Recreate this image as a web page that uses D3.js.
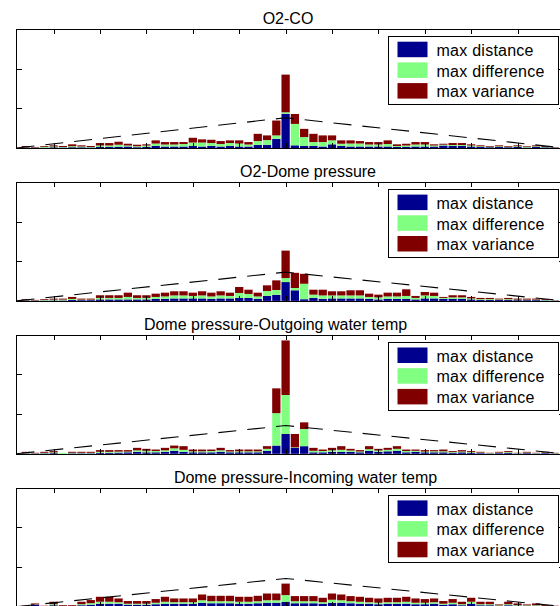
<!DOCTYPE html>
<html>
<head>
<meta charset="utf-8">
<script src="https://cdn.jsdelivr.net/npm/d3@7/dist/d3.min.js"></script>
<style>
  html, body { margin: 0; padding: 0; background: #fff; }
  text { font-family: "Liberation Sans", Arial, sans-serif; }
</style>
</head>
<body>
<div id="chart"></div>
<script>
// ── data ──────────────────────────────────────────────────────────────────────
// lag of each bar, centre bar = 0
const lags = [
  -28, -27, -26, -25, -24, -23, -22, -21, -20, -19,
  -18, -17, -16, -15, -14, -13, -12, -11, -10, -9,
  -8, -7, -6, -5, -4, -3, -2, -1, 0, 1,
  2, 3, 4, 5, 6, 7, 8, 9, 10, 11,
  12, 13, 14, 15, 16, 17, 18, 19, 20, 21,
  22, 23, 24, 25, 26, 27, 28, 29
];

const seriesKeys   = ['distance', 'difference', 'variance'];
const legendLabels = ['max distance', 'max difference', 'max variance'];

const titles = [
  'O2-CO',
  'O2-Dome pressure',
  'Dome pressure-Outgoing water temp',
  'Dome pressure-Incoming water temp'
];

const xTicks = [-25, -20, -15, -10, -5, 0, 5, 10, 15, 20, 25];
const yTicks = [40, 80];
const xDomain = [-29, 30];
const yDomain = [0, 120];

// dashed reference triangle
const triangleLags = [-29, 0, 30];

// panel 1 — O2-CO
const distance1 = [
  0.5, 0.3, 0.4, 0.7, 0.5, 0.8, 0.7, 0.5, 1.0, 1.0,
  1.3, 1.5, 0.8, 1.0, 2.0, 1.5, 1.5, 1.5, 2.0, 1.5,
  2.0, 1.5, 2.0, 1.5, 1.5, 3.0, 3.0, 9.3, 34.5, 2.7,
  2.0, 2.0, 1.5, 3.7, 2.0, 1.5, 1.5, 1.5, 1.5, 1.5,
  1.0, 1.0, 1.5, 1.5, 1.5, 2.5, 2.0, 2.0, 1.5, 1.0,
  0.8, 1.0, 0.8, 1.0, 0.5, 1.0, 0.7, 0.3
];
const difference1 = [
  0.3, 0.2, 0.8, 0.8, 0.5, 1.0, 0.8, 0.5, 1.5, 1.5,
  2.0, 1.0, 1.0, 1.5, 2.5, 2.0, 2.0, 2.5, 3.5, 4.0,
  3.0, 2.5, 3.0, 3.0, 2.0, 4.0, 5.0, 3.4, 1.5, 21.6,
  9.0, 4.0, 4.5, 4.0, 2.3, 3.0, 3.0, 2.0, 2.0, 2.5,
  1.0, 1.5, 2.0, 2.0, 1.0, 0.8, 1.0, 1.0, 1.0, 0.7,
  0.5, 0.7, 0.5, 0.7, 0.5, 0.7, 0.5, 0.3
];
const variance1 = [
  1.2, 0.5, 0.8, 1.2, 1.0, 1.9, 1.2, 1.0, 2.5, 2.5,
  3.0, 1.8, 1.5, 1.2, 3.2, 2.5, 2.5, 2.0, 4.8, 3.2,
  3.3, 3.0, 2.7, 3.2, 2.5, 7.3, 4.7, 15.0, 38.0, 10.0,
  8.3, 8.3, 6.7, 5.0, 3.4, 3.2, 2.5, 2.5, 2.5, 3.7,
  1.7, 1.8, 2.5, 2.5, 1.2, 1.0, 2.0, 2.0, 1.2, 1.0,
  0.7, 1.0, 0.7, 1.0, 0.7, 1.0, 0.8, 0.4
];
const triangle1 = [0, 30.5, 0];

// panel 2 — O2-Dome pressure
const distance2 = [
  0.4, 0.3, 0.4, 0.5, 0.5, 1.0, 0.8, 0.8, 1.5, 1.5,
  1.5, 1.5, 1.5, 1.5, 2.0, 2.0, 2.5, 2.5, 2.5, 2.5,
  2.0, 2.5, 2.5, 3.0, 3.0, 2.0, 5.0, 6.0, 19.0, 10.7,
  1.7, 3.0, 2.0, 2.5, 2.5, 2.5, 2.5, 2.0, 1.5, 2.0,
  2.0, 2.0, 1.5, 2.5, 2.5, 2.0, 2.0, 2.0, 1.5, 1.0,
  1.0, 1.0, 1.0, 0.8, 0.8, 0.8, 0.5, 0.3
];
const difference2 = [
  0.3, 0.2, 0.5, 0.8, 0.8, 1.0, 0.5, 0.5, 1.5, 1.5,
  1.5, 2.5, 1.5, 1.5, 2.0, 2.5, 3.0, 3.0, 2.5, 3.0,
  2.5, 3.0, 2.5, 5.0, 4.0, 2.5, 5.0, 5.0, 4.0, 2.3,
  15.6, 3.3, 3.5, 3.0, 3.0, 3.0, 3.0, 2.0, 2.0, 2.5,
  2.5, 3.0, 1.5, 3.0, 2.5, 1.0, 1.5, 1.5, 1.0, 0.8,
  0.8, 0.5, 0.8, 0.5, 0.5, 0.5, 0.4, 0.2
];
const variance2 = [
  1.0, 0.5, 0.8, 1.0, 1.0, 2.0, 1.0, 1.0, 2.7, 2.7,
  2.7, 4.3, 2.7, 2.7, 3.3, 3.8, 4.2, 4.2, 3.3, 4.2,
  3.8, 4.2, 3.3, 6.0, 4.3, 3.8, 5.7, 9.7, 27.7, 15.3,
  10.0, 5.0, 5.8, 4.2, 4.2, 5.2, 5.2, 3.3, 2.8, 3.8,
  3.8, 6.7, 2.0, 3.5, 3.3, 1.0, 2.2, 2.2, 1.5, 1.2,
  1.2, 0.8, 1.2, 1.0, 1.0, 1.0, 0.8, 0.2
];
const triangle2 = [0, 29, 0];

// panel 3 — Dome pressure-Outgoing water temp
const distance3 = [
  0.5, 0.3, 0.5, 0.7, 0.0, 0.5, 0.5, 0.5, 1.0, 1.0,
  1.2, 1.5, 2.0, 1.5, 1.5, 2.0, 3.0, 2.0, 1.5, 1.5,
  1.5, 2.0, 1.5, 1.5, 1.5, 1.5, 3.0, 8.3, 20.0, 6.0,
  7.7, 1.5, 1.5, 2.0, 2.0, 2.0, 1.5, 3.0, 2.0, 2.5,
  3.0, 1.5, 2.0, 1.5, 1.5, 1.5, 1.0, 1.5, 1.0, 0.7,
  0.3, 0.7, 1.0, 0.3, 0.7, 0.3, 0.7, 0.3
];
const difference3 = [
  0.5, 0.2, 0.5, 0.7, 1.0, 0.5, 0.5, 0.5, 1.0, 1.0,
  1.0, 0.7, 1.5, 1.5, 1.3, 1.5, 2.5, 2.0, 1.0, 1.0,
  1.3, 1.5, 0.8, 1.0, 1.0, 1.0, 2.0, 32.7, 39.3, 0.5,
  17.3, 1.5, 1.3, 1.5, 2.0, 1.3, 0.8, 1.7, 1.3, 1.5,
  2.0, 1.3, 1.0, 0.8, 1.0, 1.0, 0.7, 0.8, 0.7, 0.5,
  0.3, 0.5, 0.7, 0.3, 0.5, 0.3, 0.5, 0.3
];
const variance3 = [
  1.0, 0.5, 1.0, 1.3, 0.0, 1.0, 1.0, 1.0, 1.7, 1.7,
  1.5, 1.5, 2.5, 2.0, 1.5, 2.5, 2.8, 3.7, 1.8, 1.8,
  1.5, 2.5, 1.4, 1.8, 1.8, 1.8, 2.7, 25.0, 55.0, 13.5,
  6.7, 3.0, 1.5, 2.5, 3.7, 1.7, 1.4, 3.0, 1.7, 2.0,
  2.7, 1.5, 1.3, 1.4, 1.2, 1.8, 1.0, 1.4, 1.0, 0.8,
  0.4, 0.8, 1.0, 0.4, 0.8, 0.4, 0.8, 0.4
];
const triangle3 = [0, 28.5, 0];

// panel 4 — Dome pressure-Incoming water temp
const distance4 = [
  0.3, 2.0, 0.3, 1.5, 0.5, 0.5, 1.5, 2.0, 3.0, 3.0,
  3.0, 2.0, 2.0, 2.0, 2.5, 3.0, 3.0, 3.0, 3.0, 4.0,
  3.5, 3.5, 3.5, 3.0, 3.0, 3.5, 4.0, 4.0, 5.0, 3.5,
  3.5, 3.5, 3.0, 4.0, 4.0, 3.5, 3.0, 3.0, 2.5, 3.0,
  3.0, 3.0, 2.5, 2.5, 3.0, 2.0, 2.5, 1.5, 3.0, 1.5,
  1.5, 0.8, 1.5, 1.0, 0.8, 1.0, 0.5, 0.3
];
const difference4 = [
  0.3, 0.3, 0.2, 1.0, 0.4, 0.4, 1.0, 1.5, 2.0, 2.0,
  1.5, 1.0, 1.0, 1.0, 1.5, 2.0, 1.5, 1.5, 1.5, 2.5,
  2.0, 2.0, 2.0, 2.0, 2.0, 2.0, 2.5, 2.5, 6.7, 2.0,
  2.0, 2.0, 1.5, 3.0, 2.5, 2.0, 2.0, 1.5, 1.5, 1.5,
  1.5, 2.0, 1.5, 1.5, 1.5, 1.0, 1.5, 1.0, 2.0, 1.0,
  1.0, 0.5, 1.0, 0.5, 0.5, 0.5, 0.4, 0.2
];
const variance4 = [
  0.4, 1.0, 0.5, 2.5, 0.8, 0.8, 2.5, 3.2, 5.0, 5.0,
  3.8, 2.7, 2.7, 2.7, 3.7, 5.0, 3.8, 3.8, 3.8, 5.8,
  5.5, 5.5, 5.5, 5.0, 5.0, 5.5, 6.8, 6.8, 11.6, 5.2,
  5.2, 5.2, 4.5, 6.3, 5.8, 5.2, 5.0, 4.5, 4.3, 4.5,
  4.5, 5.0, 4.3, 3.7, 3.8, 2.7, 3.7, 2.5, 4.0, 2.5,
  2.5, 1.0, 2.5, 1.8, 1.0, 1.8, 0.8, 0.5
];
const triangle4 = [0, 28.5, 0];

const panels = [
  { distance: distance1, difference: difference1, variance: variance1, triangle: triangle1 },
  { distance: distance2, difference: difference2, variance: variance2, triangle: triangle2 },
  { distance: distance3, difference: difference3, variance: variance3, triangle: triangle3 },
  { distance: distance4, difference: difference4, variance: variance4, triangle: triangle4 }
];

// ── layout / style ────────────────────────────────────────────────────────────
const width = 560, height = 606;
const plotLeft = 16.5, plotRight = 564;
const firstTop = 29, panelStep = 152.9, plotH = 119;
const titleX = [288, 308, 275.5, 305.5];   // titles sit slightly off-centre in the original

const colorScale = d3.scaleOrdinal()
  .domain(seriesKeys)
  .range(['#00008f', '#80ff80', '#800000']);

const svg = d3.select('#chart')
  .append('svg')
    .attr('width', width)
    .attr('height', height)
    .style('display', 'block');

const x = d3.scaleLinear().domain(xDomain).range([plotLeft, plotRight]);
const barW = x(1) - x(0);

panels.forEach((p, i) => drawPanel(p, i));

function drawPanel(p, i) {
  const top = firstTop + i * panelStep;
  const y = d3.scaleLinear().domain(yDomain).range([top + plotH, top]);

  const g = svg.append('g').attr('class', 'panel');

  // stacked bars
  const rows = lags.map((lag, j) => ({
    lag,
    distance:   p.distance[j],
    difference: p.difference[j],
    variance:   p.variance[j]
  }));
  const stacked = d3.stack().keys(seriesKeys)(rows);

  g.append('g')
    .selectAll('g')
    .data(stacked)
    .enter()
    .append('g')
      .attr('fill', d => colorScale(d.key))
    .selectAll('rect')
    .data(d => d)
    .enter()
    .append('rect')
      .attr('x',      d => x(d.data.lag - 0.5) + 0.5)
      .attr('width',  barW - 1)
      .attr('y',      d => y(d[1]))
      .attr('height', d => y(d[0]) - y(d[1]));

  // dashed triangle
  const line = d3.line()
    .x((d, k) => x(triangleLags[k]))
    .y(d => y(d));

  g.append('path')
    .datum(p.triangle)
    .attr('d', line)
    .attr('fill', 'none')
    .attr('stroke', '#000')
    .attr('stroke-width', 1.1)
    .attr('stroke-dasharray', '18,11');

  // axes box + inward ticks on every side
  const noLabels = () => '';
  const axes = [
    { axis: d3.axisBottom(x).tickValues(xTicks), t: `translate(0,${top})` },
    { axis: d3.axisTop(x).tickValues(xTicks),    t: `translate(0,${top + plotH})` },
    { axis: d3.axisRight(y).tickValues(yTicks),  t: `translate(${plotLeft},0)` },
    { axis: d3.axisLeft(y).tickValues(yTicks),   t: `translate(${plotRight},0)` }
  ];
  axes.forEach(a => {
    g.append('g')
      .attr('transform', a.t)
      .call(a.axis.tickSize(5).tickFormat(noLabels))
      .call(s => s.select('.domain').remove())
      .call(s => s.selectAll('.tick line').attr('stroke', '#000').attr('shape-rendering', 'crispEdges'));
  });

  g.append('rect')
    .attr('x', plotLeft)
    .attr('y', top + 0.5)
    .attr('width', plotRight - plotLeft)
    .attr('height', plotH)
    .attr('fill', 'none')
    .attr('stroke', '#000')
    .attr('shape-rendering', 'crispEdges');

  // title
  g.append('text')
    .attr('x', titleX[i])
    .attr('y', top - 5)
    .attr('text-anchor', 'middle')
    .attr('font-size', '16px')
    .attr('fill', '#000')
    .text(titles[i]);

  // legend
  const legend = g.append('g')
    .attr('class', 'legend')
    .attr('transform', `translate(388.5, ${top + 7.7})`);

  legend.append('rect')
    .attr('width', 170)
    .attr('height', 67.5)
    .attr('fill', '#fff')
    .attr('stroke', '#000')
    .attr('shape-rendering', 'crispEdges');

  seriesKeys.forEach((key, k) => {
    const row = legend.append('g')
      .attr('transform', `translate(0, ${5 + k * 20.7})`);

    row.append('rect')
      .attr('x', 9)
      .attr('width', 30)
      .attr('height', 15.5)
      .attr('fill', colorScale(key));

    row.append('text')
      .attr('x', 48)
      .attr('y', 14.3)
      .attr('font-size', '16px')
      .attr('letter-spacing', '0.25px')
      .attr('fill', '#000')
      .text(legendLabels[k]);
  });
}
</script>
</body>
</html>
